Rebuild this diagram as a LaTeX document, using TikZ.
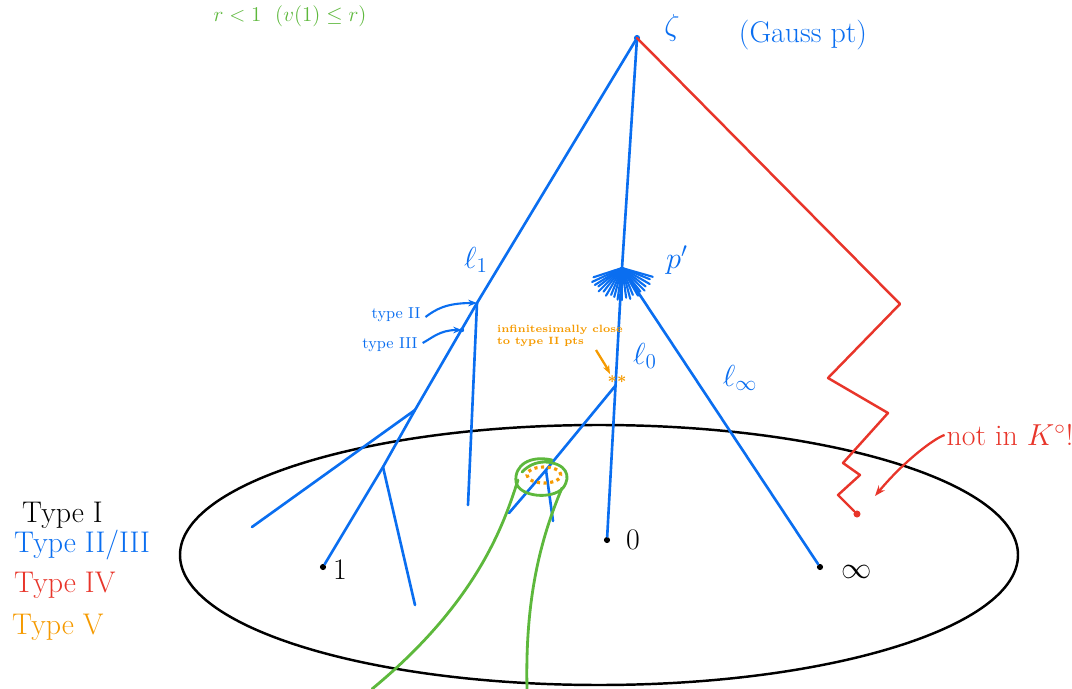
\documentclass[tikz,border=0pt]{standalone}
\usetikzlibrary{arrows.meta}
\definecolor{tblue}{RGB}{10,110,240}
\definecolor{tred}{RGB}{232,53,42}
\definecolor{tgreen}{RGB}{93,184,60}
\definecolor{torange}{RGB}{245,154,0}
\begin{document}
\begin{tikzpicture}[x=0.02cm,y=-0.02cm,
  bl/.style={draw=tblue,line width=1.5pt,line cap=round,line join=round},
  rd/.style={draw=tred,line width=1.4pt,line cap=round,line join=round},
  gr/.style={draw=tgreen,line width=1.6pt,line cap=round},
  pt/.style={circle,fill=black,inner sep=0pt,minimum size=3.5pt},
  lab/.style={inner sep=1pt,font=\fontsize{17}{20}\selectfont},
  slab/.style={inner sep=1pt,font=\small}]
\useasboundingbox (0,0) rectangle (1072,689);
% ellipse (disc)
\coordinate (dc) at (599,555);
\draw[line width=1.4pt] (dc) ellipse [x radius=419, y radius=-130];
% points
\coordinate (zeta) at (637,38);
\coordinate (pp) at (622,268);
\coordinate (b1) at (477,303);
\coordinate (t3) at (462,330);
\coordinate (b2) at (415,410);
\coordinate (b3) at (383,467);
\coordinate (l0top) at (616,385);
\coordinate (b4) at (546,470);
\node[pt] (p1) at (323,567) {};
\node[pt] (p0) at (607,540) {};
\node[pt] (pinf) at (820,567) {};
\node[pt,fill=tblue] (zd) at (zeta) {};
% blue tree
\draw[bl] (zeta) -- (b1) -- (b2) -- (b3) -- (p1);
\draw[bl] (b2) -- (252,527);
\draw[bl] (b3) -- (415,605);
\draw[bl] (b1) -- (468,505);
\draw[bl] (zeta) -- (pp) -- (p0);
\draw[bl] (pp) -- (pinf);
\draw[bl] (l0top) -- (b4) -- (509,513);
\draw[bl] (b4) -- (553,521);
\node[circle,fill=tblue,inner sep=0pt,minimum size=2.5pt] (t3d) at (t3) {};
% fan at p' (pointing down)
\foreach \a/\r in {162/30,155/33,148/32,142/30,135/33,128/30,120/32,112/29,105/30,98/32,90/32,82/30,75/32,68/29,60/32,52/30,45/32,38/30,30/32,22/30,16/32}
  \draw[bl,line width=1.2pt] (pp) -- ++(\a:\r);
% red zigzag
\node[circle,fill=tred,inner sep=0pt,minimum size=4pt] (p4) at (857,514) {};
\draw[rd] (zeta) -- (900,304) -- (828,378) -- (888,413) -- (843,463) -- (860,475) -- (838,495) -- (p4);
% green
\draw[gr] (552,460) .. controls (530,455) and (514,465) .. (516,482) .. controls (519,497) and (552,500) .. (563,488) .. controls (572,476) and (566,463) .. (545,462) .. controls (535,462) and (528,466) .. (522,472);
\draw[gr] (518,480) .. controls (505,520) and (480,600) .. (372,689);
\draw[gr] (562,488) .. controls (540,540) and (525,600) .. (527,689);
% orange dotted
\draw[torange,line width=1.8pt,dotted] (544,475) ellipse [x radius=17, y radius=-8];
\node[torange,inner sep=0pt,font=\small\bfseries] (star) at (617,382) {**};
\node[torange,inner sep=1pt,font=\fontsize{6}{7}\selectfont\bfseries,align=left] (inf) at (560,336) {infinitesimally close\\to type II pts};
\draw[torange,line width=1.3pt,-{Stealth[length=5pt]}] (596,350) .. controls (602,360) and (606,366) .. (610,374);
% labels
\node[lab,tblue] (zl) at (672,28) {$\zeta$};
\node[lab,tblue] (gauss) at (803,35) {(Gauss pt)};
\node[lab,tblue] (l1) at (476,260) {$\ell_1$};
\node[lab,tblue] (pl) at (677,260) {$p'$};
\node[lab,tblue] (l0) at (645,356) {$\ell_0$};
\node[lab,tblue] (linf) at (740,378) {$\ell_\infty$};
\node[slab,tblue] (ty2) at (396,315) {type II};
\node[slab,tblue] (ty3) at (390,345) {type III};
\draw[tblue,line width=1.2pt,-{Stealth[length=5pt]}] (ty2.east) ++(3,2) .. controls (435,310) and (445,303) .. (b1);
\draw[tblue,line width=1.2pt,-{Stealth[length=5pt]}] (ty3.east) ++(3,-2) .. controls (432,338) and (440,330) .. (t3);
\node[lab] (n1) at (340,570) {1};
\node[lab] (n0) at (633,540) {0};
\node[lab] (ninf) at (857,572) {$\infty$};
\node[lab,tred] (notin) at (1010,435) {not in $K^\circ$!};
\draw[tred,line width=1.3pt,-{Stealth[length=6pt]}] (notin.west) .. controls (935,438) and (905,460) .. (875,496);
% legend
\node[lab,anchor=west] (lg1) at (20,515) {Type I};
\node[lab,anchor=west,tblue] (lg2) at (12,545) {Type II/III};
\node[lab,anchor=west,tred] (lg3) at (12,585) {Type IV};
\node[lab,anchor=west,torange] (lg4) at (10,627) {Type V};
% top green text
\node[inner sep=0pt,anchor=north,tgreen,font=\fontsize{12}{13}\selectfont] (rt) at (290,5) {$r<1$ \ $(v(1)\le r)$};
\end{tikzpicture}
\end{document}
